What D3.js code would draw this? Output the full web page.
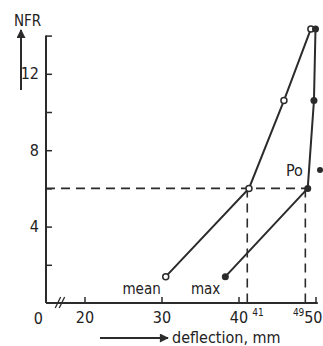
<!DOCTYPE html>
<html>
<head>
<meta charset="utf-8">
<script src="https://cdn.jsdelivr.net/npm/d3@7"></script>
<style>
  html, body { margin: 0; padding: 0; background: #fff; }
  svg text { font-family: "Liberation Sans Narrow", "DejaVu Sans Condensed", "Liberation Sans", sans-serif; fill: #222; }
</style>
</head>
<body>
<div id="chart"></div>
<script>
// deflection (mm) vs NFR
const meanDefl = [30.55, 41.36, 45.9, 49.4];
const meanNFR  = [1.38, 6.0, 10.6, 14.35];
const maxDefl  = [38.29, 48.99, 49.8, 50.0];
const maxNFR   = [1.38, 6.0, 10.6, 14.35];
const refNFR = 6;
const refDefl = [41.14, 48.68];
const refLabels = ['41', '49'];
const xTicks = [20, 30, 40, 50];
const yTicks = [2, 4, 6, 8, 10, 12, 14];
const yLabels = [4, 8, 12];

const W = 323, H = 346;
const ink = '#2b2b2b';

const svg = d3.select('#chart').append('svg')
  .attr('width', W).attr('height', H);

const x = d3.scaleLinear().domain([20, 50]).range([84.5, 315.5]);
const y = d3.scaleLinear().domain([0, 14]).range([303, 35.6]);

// axes
const xAxis = d3.axisBottom(x).tickValues(xTicks).tickSizeInner(-6).tickSizeOuter(0).tickPadding(9);
const gx = svg.append('g').attr('transform', `translate(0,${y(0)})`).call(xAxis);
gx.select('.domain').remove();
gx.selectAll('line').attr('stroke', ink).attr('stroke-width', 1.5);
gx.selectAll('text').style('font-size', '16px').attr('fill', ink);
// last label sits against the right edge
gx.selectAll('text').filter(d => d === 50)
  .attr('text-anchor', 'end').attr('x', W - 1 - x(50));

svg.append('line')
  .attr('x1', x(15)).attr('x2', x(50.3))
  .attr('y1', y(0)).attr('y2', y(0))
  .attr('stroke', ink).attr('stroke-width', 2);

const yAxis = d3.axisLeft(y).tickValues(yTicks).tickSizeInner(-6).tickSizeOuter(0).tickPadding(7)
  .tickFormat(d => yLabels.includes(d) ? d : '');
const gy = svg.append('g').attr('transform', `translate(${x(15)},0)`).call(yAxis);
gy.select('.domain').remove();
gy.selectAll('line').attr('stroke', ink).attr('stroke-width', 1.5);
gy.selectAll('text').style('font-size', '16px').attr('fill', ink);

svg.append('line')
  .attr('x1', x(15)).attr('x2', x(15))
  .attr('y1', y(0)).attr('y2', y(14))
  .attr('stroke', ink).attr('stroke-width', 2);

// "0" and axis break
svg.append('text').attr('x', x(14)).attr('y', y(0) + 21)
  .attr('text-anchor', 'middle').style('font-size', '16px').text('0');
[0, 4].forEach(o => {
  svg.append('line')
    .attr('x1', x(16.2) + o).attr('y1', y(0) + 5)
    .attr('x2', x(16.9) + o).attr('y2', y(0) - 6)
    .attr('stroke', ink).attr('stroke-width', 1.3);
});

// dashed reference lines
svg.append('line')
  .attr('x1', x(15)).attr('x2', x(refDefl[1]))
  .attr('y1', y(refNFR)).attr('y2', y(refNFR))
  .attr('stroke', ink).attr('stroke-width', 1.6).attr('stroke-dasharray', '9,6');
refDefl.forEach((d, i) => {
  svg.append('line')
    .attr('x1', x(d)).attr('x2', x(d))
    .attr('y1', y(refNFR)).attr('y2', y(0))
    .attr('stroke', ink).attr('stroke-width', 1.6).attr('stroke-dasharray', '9,6');
  svg.append('text')
    .attr('x', x(d) + (i === 0 ? 5 : -1)).attr('y', y(0) + 13)
    .attr('text-anchor', i === 0 ? 'start' : 'end')
    .style('font-size', '10px').text(refLabels[i]);
});

// series
const line = d3.line().x(d => x(d[0])).y(d => y(d[1]));
const meanPts = meanDefl.map((d, i) => [d, meanNFR[i]]);
const maxPts = maxDefl.map((d, i) => [d, maxNFR[i]]);

svg.append('path').datum(meanPts).attr('d', line)
  .attr('fill', 'none').attr('stroke', ink).attr('stroke-width', 2);
svg.append('path').datum(maxPts).attr('d', line)
  .attr('fill', 'none').attr('stroke', ink).attr('stroke-width', 2);

svg.selectAll('.mean').data(meanPts).enter().append('circle')
  .attr('cx', d => x(d[0])).attr('cy', d => y(d[1])).attr('r', 3)
  .attr('fill', '#fff').attr('stroke', ink).attr('stroke-width', 1.5);
svg.selectAll('.max').data(maxPts).enter().append('circle')
  .attr('cx', d => x(d[0])).attr('cy', d => y(d[1])).attr('r', 3.5)
  .attr('fill', ink);

// series labels
svg.append('text').attr('x', x(meanDefl[0]) - 5).attr('y', y(meanNFR[0]) + 17)
  .attr('text-anchor', 'end').style('font-size', '15px').text('mean');
svg.append('text').attr('x', x(maxDefl[0]) - 5).attr('y', y(maxNFR[0]) + 17)
  .attr('text-anchor', 'end').style('font-size', '15px').text('max');
svg.append('text').attr('x', 286).attr('y', 176)
  .style('font-size', '16px').text('Po');
svg.append('circle').attr('cx', 320).attr('cy', 170).attr('r', 3).attr('fill', ink);

// axis titles with arrows
svg.append('defs').append('marker')
  .attr('id', 'arr').attr('viewBox', '0 0 10 10')
  .attr('refX', 9).attr('refY', 5)
  .attr('markerWidth', 16).attr('markerHeight', 9)
  .attr('markerUnits', 'userSpaceOnUse')
  .attr('orient', 'auto')
  .append('path').attr('d', 'M0,0 L10,5 L0,10 Z').attr('fill', ink);

svg.append('text').attr('x', 14).attr('y', 26).style('font-size', '15px').text('NFR');
svg.append('line')
  .attr('x1', 21).attr('x2', 21).attr('y1', 90).attr('y2', 30)
  .attr('stroke', ink).attr('stroke-width', 2)
  .attr('marker-end', 'url(#arr)');
svg.append('line')
  .attr('x1', 100).attr('x2', 168).attr('y1', 338).attr('y2', 338)
  .attr('stroke', ink).attr('stroke-width', 2)
  .attr('marker-end', 'url(#arr)');
svg.append('text').attr('x', 172).attr('y', 343).style('font-size', '16px').text('deflection, mm');
</script>
</body>
</html>
